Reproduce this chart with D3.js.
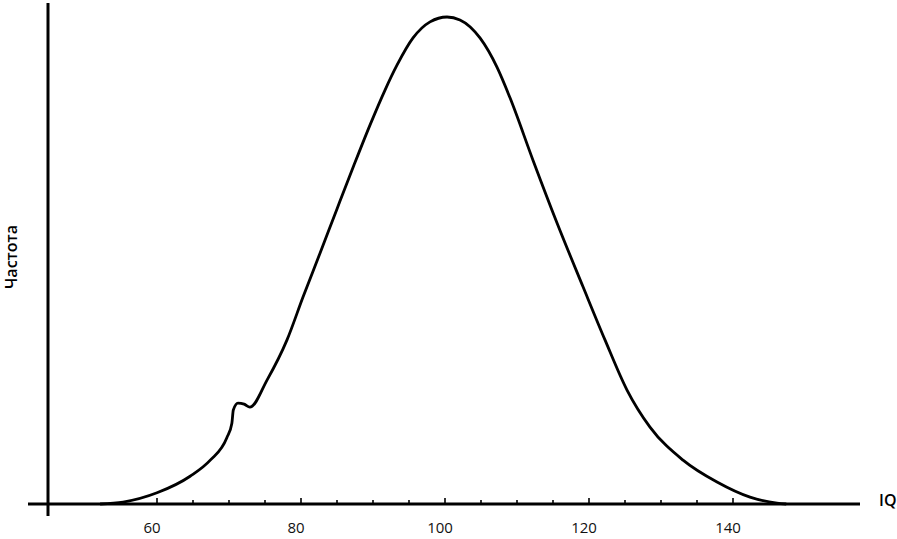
<!DOCTYPE html>
<html><head><meta charset="utf-8">
<script src="https://cdn.jsdelivr.net/npm/d3@7"></script>
<style>body{margin:0;background:#fff}svg{display:block}</style>
</head><body>
<svg id="c" width="897" height="539"></svg>
<script>
// IQ values (x) and relative frequency (peak = 100)
const iq   = [52.1, 55.3, 60.0, 64.6, 67.4, 69.7, 70.4, 70.6, 71.25, 72.1, 72.9, 75.3, 78.06, 80.28, 82.64, 85.0, 87.36, 89.58, 91.67, 93.33, 95.56, 97.92, 100.28, 102.08, 104.86, 107.22, 109.03, 112.22, 115.56, 119.17, 122.22, 125.28, 128.47, 133.06, 137.78, 142.36, 146.11, 147.4];
const freq = [0, 0.4, 2.3, 5.7, 9.0, 13.6, 16.6, 19.3, 20.7, 20.5, 19.9, 25.5, 33.7, 42.5, 51.5, 60.6, 69.6, 77.8, 85.0, 90.1, 95.7, 99.0, 100, 99.4, 95.7, 89.7, 83.4, 70.6, 57.7, 44.6, 33.7, 23.4, 15.8, 9.0, 4.5, 1.4, 0.2, 0];
const tickValues = d3.range(60, 141, 5);
const tickLabels = [60, 80, 100, 120, 140];
const xTitle = "IQ";
const yTitle = "Частота";

const svg = d3.select("#c");
const x = d3.scaleLinear().domain([60, 140]).range([157, 733]);
const y = d3.scaleLinear().domain([0, 100]).range([504, 17]);

const axisY = y(0);
const yAxisX = 48;

// x axis line
svg.append("line").attr("x1", 28).attr("x2", 860).attr("y1", axisY).attr("y2", axisY)
  .attr("stroke", "#000").attr("stroke-width", 3);
// y axis line
svg.append("line").attr("x1", yAxisX).attr("x2", yAxisX).attr("y1", 3).attr("y2", 516)
  .attr("stroke", "#000").attr("stroke-width", 3);

// ticks
svg.append("g").selectAll("line").data(tickValues).join("line")
  .attr("x1", d => x(d)).attr("x2", d => x(d))
  .attr("y1", axisY)
  .attr("y2", d => tickLabels.includes(d) ? axisY - 6 : axisY - 4)
  .attr("stroke", "#000").attr("stroke-width", 1.6);

svg.append("g").selectAll("text").data(tickLabels).join("text")
  .attr("x", d => x(d) - 5).attr("y", 533)
  .attr("text-anchor", "middle")
  .attr("font-family", "Open Sans, sans-serif").attr("font-size", 15)
  .attr("fill", "#111").text(d => d);

svg.append("text").attr("x", 879).attr("y", 506)
  .attr("font-family", "Open Sans, sans-serif").attr("font-weight", 600).attr("font-size", 16)
  .attr("fill", "#000").text(xTitle);

svg.append("text").attr("transform", "translate(17,257) rotate(-90)")
  .attr("text-anchor", "middle")
  .attr("font-family", "Open Sans, sans-serif").attr("font-weight", 600).attr("font-size", 16)
  .attr("fill", "#000").text(yTitle);

const line = d3.line().x((d, i) => x(iq[i])).y((d, i) => y(freq[i])).curve(d3.curveMonotoneX);
svg.append("path").datum(iq).attr("d", line)
  .attr("fill", "none").attr("stroke", "#000").attr("stroke-width", 2.8);
</script>
</body></html>
